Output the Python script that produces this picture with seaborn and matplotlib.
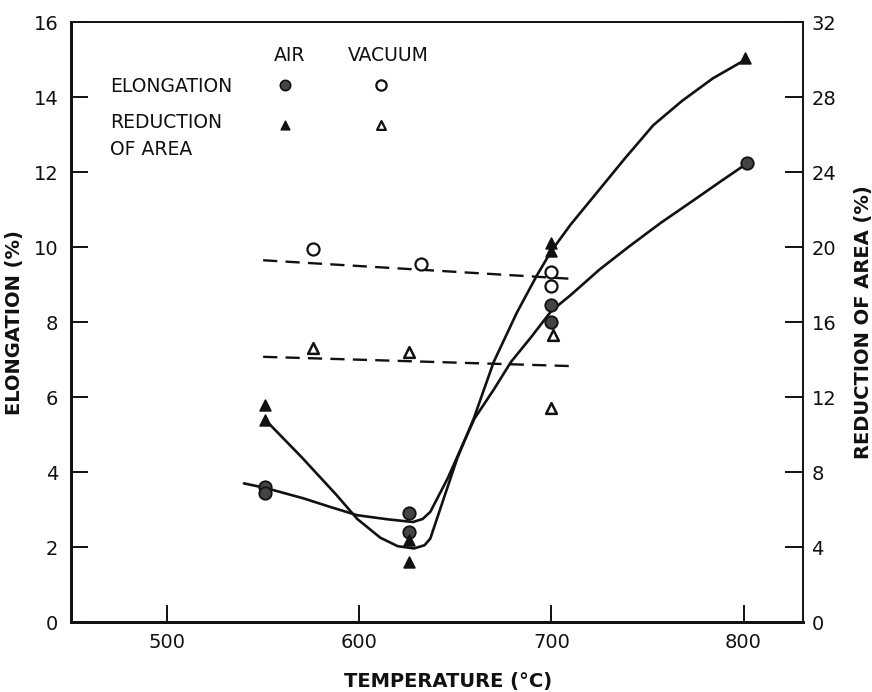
import matplotlib
matplotlib.use("Agg")
import matplotlib.pyplot as plt
import seaborn as sns

# air atmosphere - elongation (%)
air_el_temp = [551, 551, 626, 626, 700, 700, 802]
air_el = [3.61, 3.45, 2.90, 2.41, 8.47, 8.01, 12.24]
# air atmosphere - reduction of area (%)
air_ra_temp = [551, 551, 626, 626, 700, 700, 801]
air_ra = [11.6, 10.8, 4.4, 3.2, 20.2, 19.8, 30.1]
# vacuum - elongation (%)
vac_el_temp = [576, 632, 700, 700]
vac_el = [9.95, 9.54, 9.34, 8.96]
# vacuum - reduction of area (%)
vac_ra_temp = [576, 626, 701, 700]
vac_ra = [14.6, 14.4, 15.3, 11.4]

# hand drawn curves through the air points
el_curve_temp = [540, 551, 571, 585, 599, 615, 628, 633, 637, 646, 654.5, 660,
                 670, 679, 689, 700, 710, 725, 740, 757, 774, 788, 802]
el_curve = [3.70, 3.58, 3.30, 3.07, 2.85, 2.74, 2.67, 2.75, 2.94, 3.83, 4.81,
            5.43, 6.20, 6.94, 7.57, 8.30, 8.72, 9.40, 10.0, 10.65, 11.25,
            11.75, 12.24]
ra_curve_temp = [551, 570, 588, 599, 611, 620, 628.5, 634, 637, 644, 651, 659.6,
                 670, 682, 692.5, 700, 710, 722, 738, 753, 768, 784, 801]
ra_curve = [10.8, 8.8, 6.8, 5.5, 4.5, 4.05, 3.93, 4.1, 4.46, 6.6, 8.73, 10.86,
            13.88, 16.5, 18.5, 19.8, 21.2, 22.7, 24.7, 26.5, 27.8, 29.0, 30.0]

# dashed lines through vacuum points
vac_el_line_temp = [550, 712]
vac_el_line = [9.65, 9.15]
vac_ra_line_temp = [550, 712]
vac_ra_line = [14.15, 13.65]

x_ticks = [500, 600, 700, 800]
el_ticks = [0, 2, 4, 6, 8, 10, 12, 14, 16]
ra_ticks = [0, 4, 8, 12, 16, 20, 24, 28, 32]

sns.set_style("ticks")
plt.rcParams['font.family'] = ['DejaVu Sans']

ink = "#111111"
plt.rcParams['text.color'] = ink
plt.rcParams['axes.labelcolor'] = ink
plt.rcParams['xtick.color'] = ink
plt.rcParams['ytick.color'] = ink

fig, ax = plt.subplots(figsize=(8.72, 6.92), dpi=100)
fig.subplots_adjust(left=0.0814, right=0.921, bottom=0.101, top=0.968)
ax2 = ax.twinx()

# curves
sns.lineplot(x=el_curve_temp, y=el_curve, ax=ax, color=ink, lw=1.9,
             estimator=None, sort=False)
sns.lineplot(x=ra_curve_temp, y=ra_curve, ax=ax2, color=ink, lw=1.9,
             estimator=None, sort=False)
sns.lineplot(x=vac_el_line_temp, y=vac_el_line, ax=ax, color=ink, lw=1.7,
             estimator=None, sort=False, linestyle=(0, (6, 3.5)))
sns.lineplot(x=vac_ra_line_temp, y=vac_ra_line, ax=ax2, color=ink, lw=1.7,
             estimator=None, sort=False, linestyle=(0, (6, 3.5)))

# points
sns.scatterplot(x=air_el_temp, y=air_el, ax=ax, marker='o', s=80,
                color="#444444", edgecolor=ink, linewidth=1.3, zorder=4)
sns.scatterplot(x=vac_el_temp, y=vac_el, ax=ax, marker='o', s=75,
                color="white", edgecolor=ink, linewidth=1.6, zorder=4)
sns.scatterplot(x=air_ra_temp, y=air_ra, ax=ax2, marker='^', s=60,
                color=ink, edgecolor=ink, linewidth=1.2, zorder=4)
sns.scatterplot(x=vac_ra_temp, y=vac_ra, ax=ax2, marker='^', s=60,
                color="white", edgecolor=ink, linewidth=1.8, zorder=4)

ax.set_xlim(450, 831)
ax.set_ylim(0, 16)
ax2.set_ylim(0, 32)
ax.set_xticks(x_ticks)
ax.set_yticks(el_ticks)
ax2.set_yticks(ra_ticks)

ax.tick_params(axis='x', direction='in', length=12, width=1.4, pad=8,
               labelsize=14, top=False)
ax.tick_params(axis='y', direction='in', length=12, width=1.4, pad=9,
               labelsize=14, right=False)
ax2.tick_params(axis='y', direction='in', length=13, width=1.4, pad=6,
                labelsize=14, left=False)

for a in (ax, ax2):
    for side in ("top", "right"):
        a.spines[side].set_linewidth(1.2)
        a.spines[side].set_color(ink)
    for side in ("left", "bottom"):
        a.spines[side].set_linewidth(2.0)
        a.spines[side].set_color(ink)

ax.set_xlabel("TEMPERATURE (°C)", fontsize=14, fontweight='bold')
ax.xaxis.set_label_coords(0.515, -0.083)
ax.set_ylabel("ELONGATION (%)", fontsize=14, fontweight='bold')
ax.yaxis.set_label_coords(-0.064, 0.5)
ax2.set_ylabel("REDUCTION OF AREA (%)", fontsize=14, fontweight='bold')
ax2.yaxis.set_label_coords(1.07, 0.5)

# key
kt = dict(transform=ax.transAxes, fontsize=13.5, color=ink)
ax.text(0.299, 0.945, "AIR", ha='center', va='center', **kt)
ax.text(0.433, 0.945, "VACUUM", ha='center', va='center', **kt)
ax.text(0.053, 0.893, "ELONGATION", ha='left', va='center', **kt)
ax.text(0.053, 0.832, "REDUCTION", ha='left', va='center', **kt)
ax.text(0.053, 0.787, "OF AREA", ha='left', va='center', **kt)
ax.scatter([0.292], [0.895], transform=ax.transAxes, marker='o', s=55,
           color="#444444", edgecolor=ink, linewidth=1.2, clip_on=False)
ax.scatter([0.424], [0.895], transform=ax.transAxes, marker='o', s=55,
           color="white", edgecolor=ink, linewidth=1.6, clip_on=False)
ax.scatter([0.292], [0.829], transform=ax.transAxes, marker='^', s=40,
           color=ink, edgecolor=ink, linewidth=1.0, clip_on=False)
ax.scatter([0.424], [0.829], transform=ax.transAxes, marker='^', s=40,
           color="white", edgecolor=ink, linewidth=1.6, clip_on=False)

plt.savefig("out.png", dpi=100)
